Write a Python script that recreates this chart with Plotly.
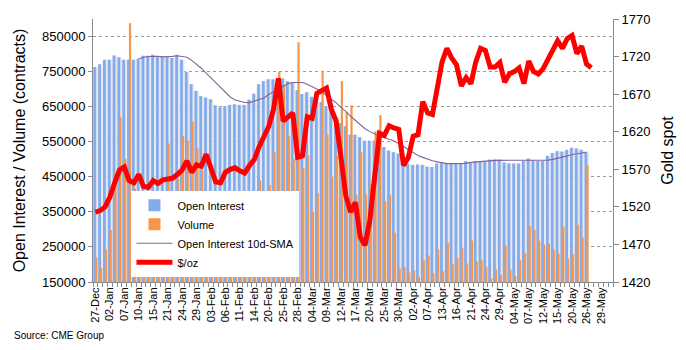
import plotly.graph_objects as go

tick_labels = ["27-Dec", "02-Jan", "07-Jan", "10-Jan", "15-Jan", "21-Jan", "24-Jan", "29-Jan",
               "03-Feb", "06-Feb", "11-Feb", "14-Feb", "20-Feb", "25-Feb", "28-Feb", "04-Mar",
               "09-Mar", "12-Mar", "17-Mar", "20-Mar", "25-Mar", "30-Mar", "02-Apr", "07-Apr",
               "13-Apr", "16-Apr", "21-Apr", "24-Apr", "29-Apr", "04-May", "07-May", "12-May",
               "15-May", "20-May", "26-May", "29-May"]
n_categories = 108

open_interest = [
    763000, 771000, 784000, 784000, 796000, 791000, 784000, 784000, 784000, 787000,
    795000, 795000, 798000, 791000, 793000, 791000, 789000, 798000, 784000, 749000,
    714000, 695000, 680000, 676000, 671000, 654000, 648000, 652000, 655000, 657000,
    655000, 655000, 670000, 687000, 714000, 723000, 728000, 728000, 729000, 730000,
    723000, 718000, 697000, 686000, 691000, 678000, 664000, 663000, 652000, 637000,
    620000, 603000, 594000, 570000, 570000, 563000, 553000, 553000, 553000, 559000,
    535000, 525000, 520000, 516000, 490000, 487000, 484000, 485000, 484000, 479000,
    478000, 488000, 489000, 488000, 489000, 489000, 489000, 495000, 491000, 495000,
    495000, 495000, 499000, 499000, 499000, 491000, 488000, 488000, 488000, 495000,
    502000, 497000, 495000, 495000, 510000, 518000, 523000, 522000, 527000, 533000,
    531000, 527000, 520000]

volume = [
    220000, 190000, 243000, 298000, 460000, 621000, 502000, 888000, 417000, 407000,
    407000, 395000, 365000, 300000, 320000, 545000, 374000, 444000, 567000, 553000,
    607000, 531000, 469000, 361000, 300000, 362000, 250000, 280000, 320000, 240000,
    300000, 260000, 330000, 290000, 440000, 300000, 426000, 520000, 749000, 712000,
    567000, 500000, 834000, 475000, 511000, 351000, 403000, 751000, 570000, 450000,
    511000, 723000, 635000, 654000, 398000, 520000, 400000, 430000, 580000, 626000,
    381000, 398000, 290000, 189000, 193000, 177000, 183000, 165000, 212000, 226000,
    175000, 243000, 181000, 262000, 200000, 219000, 248000, 203000, 268000, 210000,
    214000, 193000, 161000, 186000, 170000, 254000, 186000, 167000, 212000, 233000,
    310000, 299000, 268000, 257000, 259000, 243000, 231000, 308000, 217000, 229000,
    313000, 277000, 483000]

oi_sma10 = [
    None, None, None, None, None, None, None, None, None, 786000,
    790700, 793000, 793500, 793500, 792000, 792000, 793500, 795000, 793500, 790700,
    782000, 771700, 759600, 745500, 731400, 717000, 704500, 690400, 677700, 669000,
    665000, 662000, 661600, 666000, 670600, 675000, 684700, 693000, 700000, 708800,
    715800, 719000, 720000, 719000, 713600, 707300, 700000, 693000, 682000, 672000,
    660700, 648000, 636700, 622600, 610000, 597000, 587000, 578800, 571700, 566000,
    561900, 557600, 552000, 545000, 536400, 527000, 518600, 511000, 505400, 499700,
    496000, 492600, 490400, 487600, 487600, 487600, 487600, 488400, 491000, 492500,
    494000, 496000, 496900, 496900, 496900, 496900, 496900, 496900, 496900, 496900,
    496900, 496900, 496900, 496900, 497500, 499700, 502500, 506000, 509600, 513800,
    516700, 518000, 520300]

gold_spot = [
    1513, 1515, 1520, 1533, 1552, 1569, 1573, 1555, 1552, 1563,
    1547, 1546, 1555, 1551, 1556, 1557, 1558, 1563, 1569, 1581,
    1566, 1576, 1574, 1590, 1573, 1553, 1552, 1566, 1570, 1572,
    1568, 1565, 1575, 1583, 1600, 1613, 1627, 1650, 1691, 1634,
    1640, 1645, 1586, 1588, 1640, 1638, 1671, 1674, 1678, 1650,
    1634, 1586, 1535, 1513, 1526, 1480, 1469, 1502, 1559, 1618,
    1615, 1628, 1625, 1623, 1575, 1586, 1614, 1616, 1660, 1645,
    1643, 1682, 1713, 1731, 1718, 1709, 1681, 1692, 1684, 1713,
    1731, 1728, 1706, 1706, 1712, 1686, 1697, 1700, 1705, 1684,
    1714, 1700, 1697, 1704, 1717, 1731, 1741, 1731, 1744, 1748,
    1724, 1734, 1710, 1705]

FONT = "Liberation Sans, Arial, Helvetica, sans-serif"

x_bars = list(range(len(open_interest)))
x_gold = list(range(len(gold_spot)))

fig = go.Figure()
# soft shading behind the open-interest columns (Excel bar shadow look)
fig.add_trace(go.Bar(
    x=x_bars, y=open_interest, name="shade", showlegend=False, hoverinfo="skip",
    marker=dict(color="#E4E7EC", line=dict(width=0)),
    offset=-0.5, width=1.0, base=0))
fig.add_trace(go.Bar(
    x=x_bars, y=open_interest, name="Open Interest",
    marker=dict(color="#84ABEC", line=dict(width=0)),
    offset=-0.42, width=0.58, base=0))
fig.add_trace(go.Bar(
    x=x_bars, y=volume, name="Volume",
    marker=dict(color="#F7964A", line=dict(width=0)),
    offset=-0.04, width=0.46, base=0))
fig.add_trace(go.Scatter(
    x=x_bars, y=oi_sma10, name="Open Interest 10d-SMA", mode="lines",
    line=dict(color="#8064A2", width=1.1)))
fig.add_trace(go.Scatter(
    x=x_gold, y=gold_spot, name="$/oz", mode="lines", yaxis="y2",
    line=dict(color="#FF0000", width=5)))

fig.update_layout(
    width=686, height=350,
    margin=dict(l=93, r=73, t=17, b=68),
    paper_bgcolor="white", plot_bgcolor="white",
    font=dict(family=FONT, size=13, color="#000"),
    barmode="overlay", showlegend=True,
    legend=dict(x=0.074, y=0.02, xanchor="left", yanchor="bottom",
                bgcolor="white", borderwidth=0, font=dict(size=11, family=FONT),
                traceorder="normal", tracegroupgap=0, itemwidth=36),
    xaxis=dict(
        range=[-0.5, n_categories - 0.5],
        tickmode="array", tickvals=[3 * i for i in range(len(tick_labels))],
        ticktext=tick_labels, tickangle=-90, ticks="",
        tickfont=dict(size=11, family=FONT),
        showline=True, linecolor="#8a8a8a", linewidth=1,
        showgrid=False, zeroline=False,
        minor=dict(tickmode="linear", tick0=-0.5, dtick=1, ticks="outside",
                   ticklen=4, tickcolor="#8a8a8a", showgrid=False)),
    yaxis=dict(
        range=[150000, 900000], tickmode="array",
        tickvals=[150000 + 100000 * i for i in range(8)], tickformat="d",
        ticks="outside", ticklen=4, tickcolor="#8a8a8a",
        showline=True, linecolor="#8a8a8a", linewidth=1,
        showgrid=True, gridcolor="#9a9a9a", griddash="dot", gridwidth=1,
        zeroline=False, tickfont=dict(size=13, family=FONT),
        title=dict(text="Open Interest / Volume (contracts)", standoff=12,
                   font=dict(size=16, family=FONT))),
    yaxis2=dict(
        range=[1420, 1770], dtick=50, tick0=1420, overlaying="y", side="right",
        ticks="outside", ticklen=5, tickcolor="#8a8a8a",
        showline=True, linecolor="#8a8a8a", linewidth=1,
        showgrid=False, zeroline=False, tickfont=dict(size=13, family=FONT),
        title=dict(text="Gold spot", standoff=12, font=dict(size=16, family=FONT))),
    annotations=[dict(text="Source: CME Group", xref="paper", yref="paper",
                      x=-81 / 520, y=-(336 - 282) / 265, xanchor="left",
                      yanchor="middle", showarrow=False,
                      font=dict(size=10, family=FONT, color="#000"))],
)

fig.write_html("out.html")
